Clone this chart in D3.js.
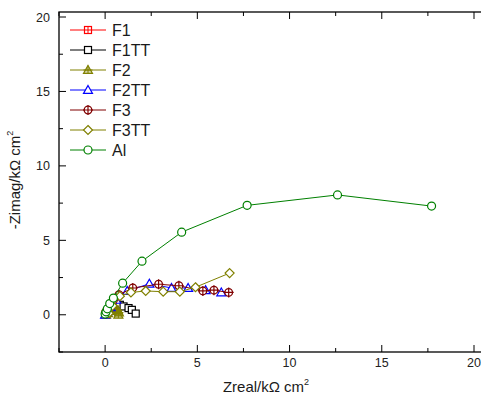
<!DOCTYPE html>
<html><head><meta charset="utf-8">
<script src="https://cdn.jsdelivr.net/npm/d3@7"></script>
<style>body{margin:0;background:#fff}svg{display:block}text{font-family:"Liberation Sans",Arial,sans-serif}</style>
</head><body>
<svg id="c" width="481" height="400"></svg>
<script>
const seriesNames = ["F1","F1TT","F2","F2TT","F3","F3TT","Al"];
const F1x = [0.02,0.05,0.1,0.2,0.3];
const F1y = [0.02,0.1,0.2,0.3,0.35];
const F1TTx = [0.05,0.15,0.3,0.55,0.8,1.0,1.27,1.45,1.66];
const F1TTy = [0.05,0.25,0.45,0.65,0.67,0.56,0.45,0.33,0.08];
const F2x = [0.05,0.15,0.3,0.45,0.6,0.7,0.75,0.72];
const F2y = [0.0,0.1,0.25,0.4,0.4,0.3,0.15,0.0];
const F2TTx = [0.0,0.1,0.3,0.6,1.2,2.4,3.6,4.5,5.45,6.3];
const F2TTy = [0.0,0.2,0.5,1.0,1.6,2.08,1.8,1.8,1.65,1.5];
const F3x = [0.05,0.2,0.45,0.75,1.5,2.9,4.0,5.3,5.9,6.7];
const F3y = [0.1,0.4,1.0,1.35,1.8,2.05,1.95,1.6,1.65,1.5];
const F3TTx = [0.2,0.4,0.8,1.4,2.2,3.15,4.05,4.9,6.75];
const F3TTy = [0.1,0.6,1.25,1.5,1.6,1.55,1.55,1.85,2.8];
const Alx = [0.0,0.05,0.12,0.25,0.45,0.95,2.0,4.15,7.7,12.6,17.7];
const Aly = [0.05,0.2,0.4,0.75,1.12,2.12,3.6,5.55,7.35,8.05,7.3];
const xTicks = [0,5,10,15,20];
const yTicks = [0,5,10,15,20];

const seriesX = [F1x,F1TTx,F2x,F2TTx,F3x,F3TTx,Alx];
const seriesY = [F1y,F1TTy,F2y,F2TTy,F3y,F3TTy,Aly];
const colors = ["#ff0000","#000000","#808000","#0000ff","#800000","#808000","#008000"];
const markers = ["sqplus","square","triplus","tri","circplus","diamond","circle"];

const svg = d3.select("#c");
const L=59, R=484, T=12, B=352;
const x = d3.scaleLinear().domain([-2.5,20]).range([L,474]);
const y = d3.scaleLinear().domain([-2.5,20]).range([B,17]);

function drawMarker(g, type, cx, cy, col){
  if(type==="circle"){
    g.append("circle").attr("cx",cx).attr("cy",cy).attr("r",4).attr("fill","#fff").attr("stroke",col).attr("stroke-width",1.2);
  } else if(type==="square"){
    g.append("rect").attr("x",cx-3.5).attr("y",cy-3.5).attr("width",7).attr("height",7).attr("fill","#fff").attr("stroke",col).attr("stroke-width",1.2);
  } else if(type==="sqplus"){
    g.append("rect").attr("x",cx-3.5).attr("y",cy-3.5).attr("width",7).attr("height",7).attr("fill","#fff").attr("stroke",col).attr("stroke-width",1.2);
    g.append("path").attr("d",`M${cx-3.5},${cy}H${cx+3.5}M${cx},${cy-3.5}V${cy+3.5}`).attr("stroke",col).attr("stroke-width",1);
  } else if(type==="tri"||type==="triplus"){
    const h=4.5;
    g.append("path").attr("d",`M${cx},${cy-h}L${cx+h},${cy+h*0.75}L${cx-h},${cy+h*0.75}Z`).attr("fill",type==="triplus"?col:"#fff").attr("fill-opacity",type==="triplus"?0.35:1).attr("stroke",col).attr("stroke-width",1.2);
    if(type==="triplus") g.append("path").attr("d",`M${cx-h},${cy}H${cx+h}M${cx},${cy-h}V${cy+h*0.75}`).attr("stroke",col).attr("stroke-width",1);
  } else if(type==="diamond"){
    g.append("path").attr("d",`M${cx},${cy-4.5}L${cx+4.5},${cy}L${cx},${cy+4.5}L${cx-4.5},${cy}Z`).attr("fill","#fff").attr("stroke",col).attr("stroke-width",1.2);
  } else if(type==="circplus"){
    g.append("circle").attr("cx",cx).attr("cy",cy).attr("r",3.8).attr("fill","#fff").attr("stroke",col).attr("stroke-width",1.3);
    g.append("path").attr("d",`M${cx-5},${cy}H${cx+5}M${cx},${cy-5}V${cy+5}`).attr("stroke",col).attr("stroke-width",1.2);
  }
}

const plot = svg.append("g");
seriesNames.forEach((n,i)=>{
  const pts = seriesX[i].map((v,j)=>[x(v),y(seriesY[i][j])]);
  plot.append("path").attr("d",d3.line()(pts)).attr("fill","none").attr("stroke",colors[i]).attr("stroke-width",1);
  const g = plot.append("g");
  pts.forEach(p=>drawMarker(g,markers[i],p[0],p[1],colors[i]));
});

const ax = svg.append("g").attr("stroke","#000").attr("fill","none");
ax.append("rect").attr("x",L).attr("y",T).attr("width",R-L).attr("height",B-T).attr("stroke-width",1.3);
const xMinor = d3.range(-2.5,20.01,2.5);
xMinor.forEach(v=>{
  const major = xTicks.includes(v);
  const len = major?7:4;
  ax.append("line").attr("x1",x(v)).attr("x2",x(v)).attr("y1",B).attr("y2",B-len);
  ax.append("line").attr("x1",x(v)).attr("x2",x(v)).attr("y1",T).attr("y2",T+len);
});
xMinor.forEach(v=>{
  const major = yTicks.includes(v);
  const len = major?7:4;
  ax.append("line").attr("y1",y(v)).attr("y2",y(v)).attr("x1",L).attr("x2",L+len);
});
svg.append("g").selectAll("text").data(xTicks).join("text")
  .attr("x",d=>x(d)).attr("y",B+15).attr("text-anchor","middle").attr("font-size",12.5).attr("fill","#222").text(d=>d);
svg.append("g").selectAll("text").data(yTicks).join("text")
  .attr("x",50).attr("y",d=>y(d)+4.5).attr("text-anchor","end").attr("font-size",12.5).attr("fill","#222").text(d=>d);

const xt = svg.append("text").attr("x",266).attr("y",392).attr("text-anchor","middle").attr("font-size",15).attr("fill","#1a1a1a");
xt.append("tspan").text("Zreal/kΩ cm");
xt.append("tspan").attr("font-size",9).attr("dy",-7).text("2");
const yt = svg.append("text").attr("transform","translate(20,180) rotate(-90)").attr("text-anchor","middle").attr("font-size",15).attr("fill","#1a1a1a");
yt.append("tspan").text("-Zimag/kΩ cm");
yt.append("tspan").attr("font-size",9).attr("dy",-7).text("2");

const lg = svg.append("g");
seriesNames.forEach((n,i)=>{
  const ly = 30 + i*20;
  lg.append("line").attr("x1",70).attr("x2",106).attr("y1",ly).attr("y2",ly).attr("stroke",colors[i]).attr("stroke-width",1);
  drawMarker(lg,markers[i],88,ly,colors[i]);
  lg.append("text").attr("x",112).attr("y",ly+5.5).attr("font-size",16).attr("fill","#1a1a1a").text(n);
});
</script>
</body></html>
